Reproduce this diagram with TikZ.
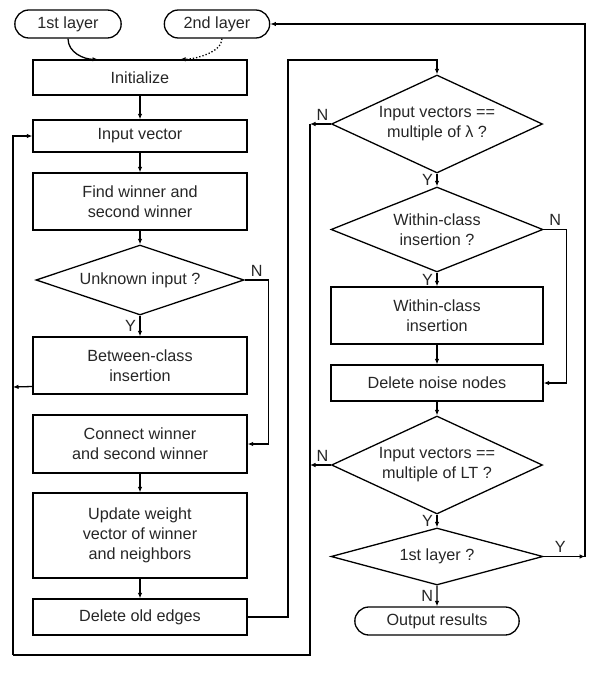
\documentclass[tikz,border=0pt]{standalone}
\usepackage{fontspec}
\setmainfont{Liberation Sans}
\usetikzlibrary{
    arrows.meta,
    shapes
}

\begin{document}
\begin{tikzpicture}[x=1pt, y=1pt, >={Latex[length=5.5pt,width=4.5pt]},
    every node/.style={font=\fontsize{16.2}{20}\selectfont, text=black!85},
    box/.style={draw, line width=1.3pt, align=center, minimum width=214pt},
    term/.style={draw, rounded rectangle, line width=1.3pt, minimum height=28pt},
    cond/.style={draw, diamond, line width=1.3pt, align=center, inner sep=0pt, shape aspect=2.2},
    flow/.style={line width=1.3pt}]
    \useasboundingbox (0,0) rectangle (605,-675);

    % left column
    \node[term, minimum width=113pt] (lay1) at (68,-24) {1st layer};
    \node[term, minimum width=112pt] (lay2) at (217,-24) {2nd layer};
    \node[box, minimum height=35pt] (init) at (140,-77.5) {Initialize};
    \node[box, minimum height=32pt] (inp) at (140,-136) {Input vector};
    \node[box, minimum height=57pt] (find) at (140,-201.5) {Find winner and\\second winner};
    \node[cond, minimum width=208pt, minimum height=70pt] (unk) at (140,-280) {Unknown input ?};
    \node[box, minimum height=57pt] (betw) at (140,-365.5) {Between-class\\insertion};
    \node[box, minimum height=58pt] (conn) at (140,-444) {Connect winner\\and second winner};
    \node[box, minimum height=85pt] (upd) at (140,-535.5) {Update weight\\vector of winner\\and neighbors};
    \node[box, minimum height=36pt] (deledge) at (140,-617) {Delete old edges};

    % right column
    \node[cond, minimum width=211pt, minimum height=98pt] (lam) at (437,-124) {Input vectors ==\\multiple of λ ?};
    \node[cond, minimum width=212pt, minimum height=85pt] (within) at (437,-229.5) {Within-class\\insertion ?};
    \node[box, minimum width=212pt, minimum height=57pt] (winsert) at (437,-315.5) {Within-class\\insertion};
    \node[box, minimum width=212pt, minimum height=36pt] (noise) at (437,-383) {Delete noise nodes};
    \node[cond, minimum width=211pt, minimum height=98pt] (lt) at (437,-465) {Input vectors ==\\multiple of LT ?};
    \node[cond, minimum width=212pt, minimum height=57pt] (isfirst) at (437,-556.5) {1st layer ?};
    \node[term, minimum width=171pt] (out) at (437,-621) {Output results};

    % loop points
    \coordinate (rise) at (288,-60);
    \coordinate (nlam) at (310,-124);
    \coordinate (nlt) at (310,-465);
    \coordinate (bottom) at (310,-655);
    \coordinate (back) at (13,-655);
    \coordinate (nbetw) at (13,-387);
    \coordinate (nfirst) at (585,-556.5);

    \draw[flow, ->] (lay1.south) .. controls +(0,-14) and +(-14,0) .. ([xshift=-42pt]init.north);
    \draw[flow, ->, dotted] ([xshift=5pt]lay2.south) .. controls +(0,-14) and +(14,0) .. ([xshift=40pt]init.north);

    \draw[flow]
    (init) edge[->] (inp)
    (inp) edge[->] (find)
    (find) edge[->] (unk)
    (unk) edge[->] node[left]{Y} (betw)
    (conn) edge[->] (upd)
    (upd) edge[->] (deledge)
    (lam) edge[->] node[left]{Y} (within)
    (within) edge[->] node[left]{Y} (winsert)
    (winsert) edge[->] (noise)
    (noise) edge[->] (lt)
    (lt) edge[->] node[left]{Y} (isfirst)
    (isfirst) edge[->] node[left]{N} (out);

    \draw[flow, ->] (unk.east) -- node[above]{N} ++(24,0) |- (conn.east);
    \draw[flow, ->] (within.east) -- node[above]{N} ++(23,0) |- (noise.east);
    \draw[flow, ->] (deledge.east) -| (rise) -| (lam.north);

    \draw[flow, ->] (lam.west) -- node[above, pos=0.4]{N} (nlam);
    \draw[flow, ->] (lt.west) -- node[above, pos=0.4]{N} (nlt);
    \draw[flow] (nlam) -- (bottom) -- (back);
    \draw[flow, ->] (back) |- (inp.west);
    \draw[flow, ->] ([yshift=-21pt]betw.west) -- (nbetw);

    \draw[flow, ->] (isfirst.east) -- node[above, pos=0.4]{Y} (nfirst);
    \draw[flow, ->] (nfirst) |- (lay2.east);
\end{tikzpicture}
\end{document}
